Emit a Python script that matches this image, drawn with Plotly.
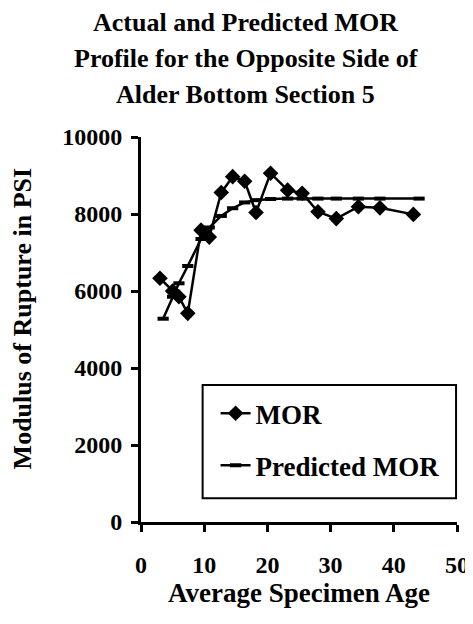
import plotly.graph_objects as go

# Average specimen age (x) and MOR values
age = [3.0, 5.0, 6.0, 7.4, 9.5, 10.8, 12.7, 14.5, 16.4, 18.2, 20.5, 23.2, 25.5, 28.0, 30.9, 34.4, 37.8, 43.1]
mor = [6330, 6000, 5850, 5420, 7580, 7400, 8560, 8970, 8850, 8040, 9060, 8620, 8540, 8060, 7880, 8190, 8160, 7990]

pred_age = [3.5, 5.0, 6.0, 7.4, 9.5, 10.8, 12.7, 14.5, 16.4, 18.2, 20.5, 23.2, 25.5, 28.0, 30.9, 34.4, 37.8, 44.0]
pred_mor = [5280, 5850, 6200, 6650, 7350, 7650, 7950, 8150, 8300, 8360, 8390, 8400, 8400, 8400, 8400, 8400, 8400, 8400]

title_lines = ["Actual and Predicted MOR", "Profile for the Opposite Side of", "Alder Bottom Section 5"]

FONT = "Liberation Serif, Times New Roman, serif"
BOLD = {"family": FONT, "weight": "bold", "color": "black"}

fig = go.Figure()
fig.add_trace(go.Scatter(
    x=age, y=mor, name="MOR", mode="lines+markers", legendgroup="a",
    line={"color": "black", "width": 2.5},
    marker={"symbol": "diamond", "size": 12, "color": "black"},
))
fig.add_trace(go.Scatter(
    x=pred_age, y=pred_mor, name="Predicted MOR", mode="lines+markers", legendgroup="b",
    line={"color": "black", "width": 2.5},
    marker={"symbol": "line-ew-open", "size": 8, "color": "black", "line": {"width": 4, "color": "black"}},
))

# title as three separately placed lines (wider line spacing than plotly's title)
for i, line in enumerate(title_lines):
    fig.add_annotation(
        text=line, xref="paper", yref="paper", x=0.332, y=1.298 - i * 0.094,
        xanchor="center", yanchor="middle", showarrow=False,
        font={**BOLD, "size": 26},
    )
fig.add_annotation(
    text="Modulus of Rupture in PSI", xref="paper", yref="paper",
    x=-0.372, y=0.53, xanchor="center", yanchor="middle", textangle=-90, showarrow=False,
    font={**BOLD, "size": 26},
)
fig.add_annotation(
    text="Average Specimen Age", xref="paper", yref="paper",
    x=0.5, y=-0.185, xanchor="center", yanchor="middle", showarrow=False,
    font={**BOLD, "size": 27},
)

# legend frame (wider than plotly's own legend box)
fig.add_shape(
    type="rect", xref="paper", yref="paper", x0=0.195, x1=0.997, y0=0.062, y1=0.356,
    line={"color": "black", "width": 2}, fillcolor="white", layer="above",
)

fig.update_layout(
    width=473, height=624,
    paper_bgcolor="white", plot_bgcolor="white",
    font={**BOLD, "size": 24},
    margin={"l": 133, "r": 22, "t": 129, "b": 110},
    legend={
        "x": 0.236, "y": 0.345, "xanchor": "left", "yanchor": "top",
        "borderwidth": 0, "bgcolor": "rgba(0,0,0,0)",
        "font": {**BOLD, "size": 27},
        "traceorder": "grouped", "tracegroupgap": 14,
    },
    showlegend=True,
)
fig.update_xaxes(
    range=[0, 50], dtick=10, tickformat="d", showgrid=False, zeroline=False,
    showline=True, linecolor="black", linewidth=3,
    ticks="outside", ticklen=7, tickwidth=2.5, tickcolor="black", ticklabelstandoff=12,
)
fig.update_yaxes(
    range=[0, 10000], dtick=2000, tickformat="d", showgrid=False, zeroline=False,
    showline=True, linecolor="black", linewidth=3,
    ticks="outside", ticklen=7, tickwidth=2.5, tickcolor="black", ticklabelstandoff=4,
)

fig.write_html("out.html")
